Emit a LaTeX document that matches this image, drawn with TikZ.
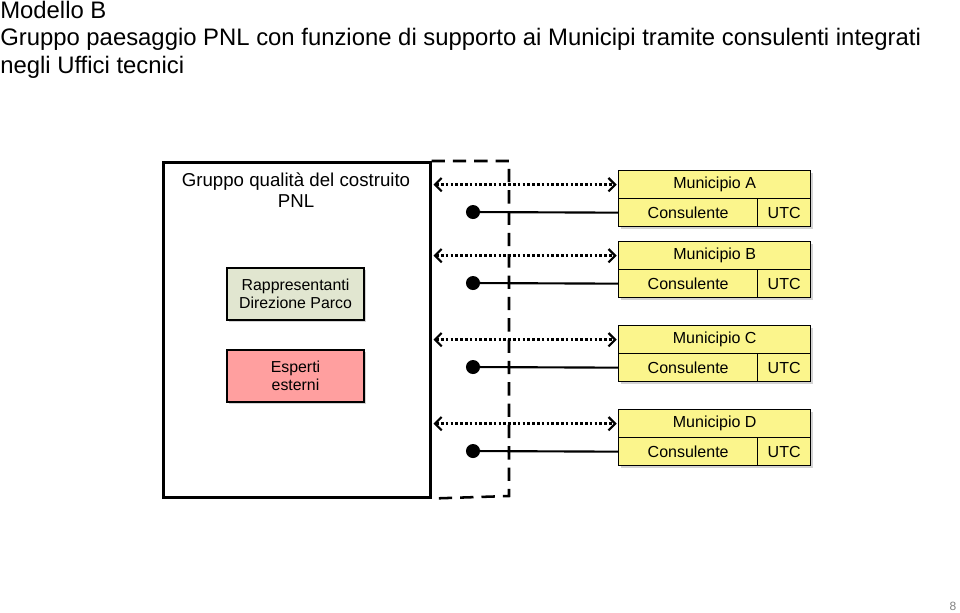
\documentclass[tikz,border=0pt]{standalone}
\usepackage{fontspec}
\setmainfont{Liberation Sans}
\usetikzlibrary{arrows.meta,positioning,shadows}
\definecolor{munyellow}{HTML}{FBF58C}
\definecolor{parcogreen}{HTML}{E1E6D0}
\definecolor{esperred}{HTML}{FF9F9F}
\tikzset{%
	titletext/.style = {anchor=base west, inner sep=0pt, font=\fontsize{17.9}{20}\selectfont},
	boxshadow/.style = {drop shadow={opacity=0.35, shadow xshift=1.8pt, shadow yshift=-1.8pt}},
	inbox/.style     = {draw, line width=1pt, boxshadow, align=center, minimum width=102.75pt, minimum height=39pt, inner sep=1pt, font=\fontsize{11.9}{13.5}\selectfont},
	munbox/.style    = {draw, line width=1pt, fill=munyellow, minimum height=21pt, inner sep=0pt, font=\fontsize{12}{14}\selectfont},
	link/.style      = {line width=2pt, dash pattern=on 2pt off 1.6pt, {Straight Barb[length=5pt,width=10pt,line width=1.6pt]}-{Straight Barb[length=5pt,width=10pt,line width=1.6pt]}},
	dotline/.style   = {line width=1.6pt, {Circle[length=10.5pt]}-},
}

\begin{document}
\begin{tikzpicture}[x=0.75pt,y=-0.75pt]
	\useasboundingbox (0,0) rectangle (960,613);
	% titolo
	\node[titletext] (t1) at (0,19) {Modello B};
	\node[titletext] (t2) at (0,46) {Gruppo paesaggio PNL con funzione di supporto ai Municipi tramite consulenti integrati};
	\node[titletext] (t3) at (0,74) {negli Uffici tecnici};
	% gruppo qualita
	\node[draw, line width=1.9pt, anchor=north west, minimum width=200.25pt, minimum height=251.25pt] (gruppo) at (162,161) {};
	\node[align=center, font=\fontsize{14}{16}\selectfont] (gruppotxt) at (296,190) {Gruppo qualità del costruito\\PNL};
	\node[inbox, fill=parcogreen] (parco) at (295.5,294) {Rappresentanti\\Direzione Parco};
	\node[inbox, fill=esperred] (esperti) at (295.5,376) {Esperti\\esterni};
	\draw[line width=1.9pt, dash pattern=on 10pt off 6pt] (gruppo.north east) -- (509,161) -- (509,496) -- (gruppo.south east);
	% municipi
	\foreach \m/\y in {A/170, B/241, C/325, D/409}{
		\node[munbox, boxshadow, anchor=north west, minimum width=144pt] (mun\m) at (618,\y) {Municipio \m};
		\node[munbox, boxshadow, anchor=north west, minimum width=104.25pt] (cons\m) at (618,\y+28) {Consulente};
		\node[munbox, boxshadow, anchor=north west, minimum width=39.75pt] (utc\m) at (757,\y+28) {UTC};
		\node[munbox, anchor=north west, minimum width=144pt] at (618,\y) {Municipio \m};
		\coordinate (dot\m) at (466,\y+42);
		\draw[link] ([xshift=1.5pt]gruppo.east |- mun\m.west) -- ([xshift=-1pt]mun\m.west);
		\draw[dotline] (dot\m) -- (cons\m.west);
	}
	\node[text=gray, font=\fontsize{9}{10}\selectfont] (pagina) at (953,606) {8};
\end{tikzpicture}
\end{document}
